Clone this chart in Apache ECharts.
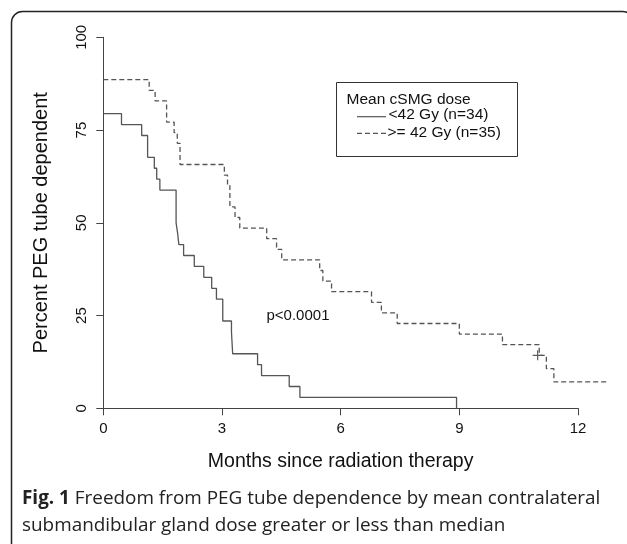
<!DOCTYPE html>
<html>
<head>
<meta charset="utf-8">
<script src="https://cdn.jsdelivr.net/npm/echarts@6/dist/echarts.min.js"></script>
<style>
html,body{margin:0;padding:0;background:#fff;}
#chart{width:627px;height:544px;}
</style>
</head>
<body>
<div id="chart"></div>
<script>
// ---- data ----
var xTicks = [0, 3, 6, 9, 12];
var yTicks = [0, 25, 50, 75, 100];
var xDataMax = 12.8; // plotting range extends a little past the last tick

// <42 Gy (n=34): event times (months) and survival (%) after each step
var lowDoseTime = [0, 0.46, 0.97, 1.12, 1.29, 1.35, 1.43, 1.84, 1.88, 1.91, 2.03, 2.30, 2.54, 2.74, 2.86, 3.02, 3.24, 3.27, 3.90, 4.00, 4.70, 4.97, 8.93];
var lowDosePct  = [79.41, 76.47, 73.53, 67.65, 64.71, 61.76, 58.82, 50.00, 47.06, 44.12, 41.18, 38.24, 35.29, 32.35, 29.41, 23.53, 20.59, 14.71, 11.76, 8.82, 5.88, 2.94, 0];

// >= 42 Gy (n=35)
var highDoseTime = [0, 1.16, 1.31, 1.60, 1.79, 1.87, 1.94, 3.06, 3.14, 3.20, 3.33, 3.45, 4.13, 4.38, 4.51, 5.47, 5.55, 5.77, 6.78, 7.03, 7.43, 9.00, 10.09, 11.02, 11.20, 11.39, 12.75];
var highDosePct  = [88.57, 85.71, 82.86, 77.14, 74.29, 71.43, 65.71, 62.86, 60.00, 54.29, 51.43, 48.57, 45.71, 42.86, 40.00, 37.14, 34.29, 31.43, 28.57, 25.71, 22.86, 20.00, 17.14, 14.29, 10.71, 7.14, 7.14];

// censored observation
var censorTime = [10.98];
var censorPct  = [14.29];

var legendTitle = 'Mean cSMG dose';
var seriesNames = ['<42 Gy (n=34)', '>= 42 Gy (n=35)'];
var pText = 'p<0.0001';
var xTitle = 'Months since radiation therapy';
var yTitle = 'Percent PEG tube dependent';
var captionBold = 'Fig. 1';
var captionLine1 = ' Freedom from PEG tube dependence by mean contralateral';
var captionLine2 = 'submandibular gland dose greater or less than median';

function zip(a, b) { return a.map(function (v, i) { return [v, b[i]]; }); }

var FONT = '"Liberation Sans", Arial, Helvetica, sans-serif';
var CAPFONT = '"Open Sans", "Noto Sans", sans-serif';
var LINE = '#555';
var AX = '#444';

// axis grid (0..12) and data grid (0..12.8) share the same pixel scale
var G_LEFT = 103.3, G_TOP = 37.3, G_BOTTOM = 135.7, AX_RIGHT_PX = 578;
var dataRightPx = G_LEFT + (AX_RIGHT_PX - G_LEFT) * xDataMax / xTicks[xTicks.length - 1];

var chart = echarts.init(document.getElementById('chart'), null, {renderer: 'canvas'});
chart.setOption({
  animation: false,
  backgroundColor: '#fff',
  grid: [
    {left: G_LEFT, right: 627 - AX_RIGHT_PX, top: G_TOP, bottom: G_BOTTOM},
    {left: G_LEFT, right: 627 - dataRightPx, top: G_TOP, bottom: G_BOTTOM}
  ],
  xAxis: [{
    gridIndex: 0, type: 'value', min: xTicks[0], max: xTicks[xTicks.length - 1], interval: 3,
    axisLine: {show: true, onZero: false, lineStyle: {color: AX, width: 1}},
    axisTick: {show: true, length: 7, lineStyle: {color: AX}},
    axisLabel: {fontSize: 15, margin: 13, color: '#111', fontFamily: FONT},
    splitLine: {show: false},
    name: xTitle, nameLocation: 'middle', nameGap: 43.5,
    nameTextStyle: {fontSize: 19.5, color: '#111', fontFamily: FONT}
  }, {
    gridIndex: 1, type: 'value', min: 0, max: xDataMax, show: false
  }],
  yAxis: [{
    gridIndex: 0, type: 'value', min: yTicks[0], max: yTicks[yTicks.length - 1], interval: 25,
    axisLine: {show: true, lineStyle: {color: AX, width: 1}},
    axisTick: {show: true, length: 7, lineStyle: {color: AX}},
    axisLabel: {fontSize: 15, margin: 14, rotate: 90, color: '#111', fontFamily: FONT},
    splitLine: {show: false},
    name: yTitle, nameLocation: 'middle', nameGap: 52,
    nameTextStyle: {fontSize: 20, color: '#111', fontFamily: FONT}
  }, {
    gridIndex: 1, type: 'value', min: yTicks[0], max: yTicks[yTicks.length - 1], show: false
  }],
  series: [
    {
      name: seriesNames[0], type: 'line', step: 'end', showSymbol: false,
      xAxisIndex: 1, yAxisIndex: 1,
      data: zip(lowDoseTime, lowDosePct),
      lineStyle: {color: LINE, width: 1.3}, clip: false
    },
    {
      name: seriesNames[1], type: 'line', step: 'end', showSymbol: false,
      xAxisIndex: 1, yAxisIndex: 1,
      data: zip(highDoseTime, highDosePct),
      lineStyle: {color: LINE, width: 1.3, type: [5, 3]}, clip: false
    },
    {
      name: 'censored', type: 'scatter', xAxisIndex: 1, yAxisIndex: 1,
      data: zip(censorTime, censorPct),
      symbol: 'path://M4.4,0H5.6V4.4H10V5.6H5.6V10H4.4V5.6H0V4.4H4.4Z',
      symbolSize: 10, itemStyle: {color: '#333'}, clip: false
    }
  ],
  graphic: [
    {type: 'rect', left: 9, top: 9, shape: {width: 622, height: 545, r: 11},
      style: {fill: 'none', stroke: '#222', lineWidth: 1.5}, silent: true},
    // legend box
    {type: 'rect', left: 336, top: 82, shape: {width: 181, height: 74},
      style: {fill: '#fff', stroke: '#333', lineWidth: 1}},
    {type: 'text', left: 346.5, top: 91.5, style: {text: legendTitle, font: '15.5px ' + FONT, fill: '#111'}},
    {type: 'line', shape: {x1: 357, y1: 116.7, x2: 386, y2: 116.7}, style: {stroke: LINE, lineWidth: 1.2}},
    {type: 'line', shape: {x1: 357, y1: 133.3, x2: 386, y2: 133.3}, style: {stroke: LINE, lineWidth: 1.2, lineDash: [5, 3]}},
    {type: 'text', left: 388.5, top: 107, style: {text: seriesNames[0], font: '15.5px ' + FONT, fill: '#111'}},
    {type: 'text', left: 387.5, top: 125, style: {text: seriesNames[1], font: '15.5px ' + FONT, fill: '#111'}},
    // p-value
    {type: 'text', left: 266.5, top: 308.5, style: {text: pText, font: '15px ' + FONT, fill: '#111'}},
    // caption
    {type: 'text', left: 22, top: 489, style: {
      text: '{b|' + captionBold + '}{r|' + captionLine1 + '}',
      rich: {b: {font: 'bold 18.9px ' + CAPFONT, fill: '#222'}, r: {font: '18.9px ' + CAPFONT, fill: '#222'}}
    }},
    {type: 'text', left: 22, top: 516, style: {text: captionLine2, font: '18.9px ' + CAPFONT, fill: '#222'}}
  ]
});
</script>
</body>
</html>
